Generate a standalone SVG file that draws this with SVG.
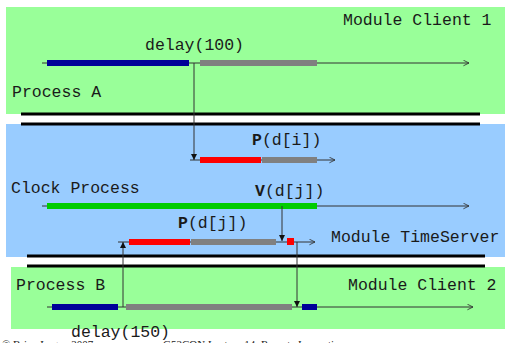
<svg xmlns="http://www.w3.org/2000/svg" width="505" height="343" viewBox="0 0 505 343">
<defs>
<style>
.t{font-family:"Liberation Mono","Courier New",monospace;font-size:16.5px;fill:#1a1a1a}
.b{font-weight:bold}
.ax{stroke:#333;stroke-width:1;fill:none}
.sep{stroke:#000;stroke-width:3}
.bar{stroke-width:6;fill:none}
.ft{font-family:"Liberation Serif","Times New Roman",serif;font-size:11px;fill:#222}
</style>
<marker id="open" viewBox="0 0 10 10" refX="9" refY="5" markerWidth="7" markerHeight="7" orient="auto" markerUnits="userSpaceOnUse">
<path d="M1,1 L9,5 L1,9" fill="none" stroke="#333" stroke-width="1.2"/>
</marker>
<marker id="fill" viewBox="0 0 10 10" refX="10" refY="5" markerWidth="6" markerHeight="6" orient="auto" markerUnits="userSpaceOnUse">
<path d="M0,0 L10,5 L0,10 Z" fill="#111"/>
</marker>
</defs>
<rect width="505" height="343" fill="#fff"/>

<g id="client1">
<rect x="6" y="7" width="499" height="107" fill="#99FF99"/>
<text class="t" x="343" y="25">Module Client 1</text>
<text class="t" x="145" y="50">delay(100)</text>
<text class="t" x="12" y="97">Process A</text>
<line class="ax" x1="42" y1="63" x2="469" y2="63" marker-end="url(#open)"/>
<line class="bar" x1="47" y1="63" x2="189" y2="63" stroke="#000099"/>
<line class="bar" x1="200" y1="63" x2="317" y2="63" stroke="#808080"/>
</g>

<g id="timeserver">
<rect x="6" y="124" width="499" height="133" fill="#99CCFF"/>
<text class="t" x="252" y="145"><tspan class="b">P</tspan>(d[i])</text>
<line class="ax" x1="190" y1="160" x2="335" y2="160" marker-end="url(#open)"/>
<line class="bar" x1="200" y1="160" x2="261" y2="160" stroke="#FF0000"/>
<line class="bar" x1="262" y1="160" x2="317" y2="160" stroke="#808080"/>
<text class="t" x="11" y="193">Clock Process</text>
<text class="t" x="255" y="196"><tspan class="b">V</tspan>(d[j])</text>
<line class="ax" x1="42" y1="206" x2="469" y2="206" marker-end="url(#open)"/>
<line class="bar" x1="47" y1="206" x2="317" y2="206" stroke="#00CC00"/>
<text class="t" x="178" y="228"><tspan class="b">P</tspan>(d[j])</text>
<line class="ax" x1="118" y1="242" x2="315" y2="242" marker-end="url(#open)"/>
<line class="bar" x1="129" y1="242" x2="190" y2="242" stroke="#FF0000"/>
<line class="bar" x1="191" y1="242" x2="276" y2="242" stroke="#808080"/>
<rect x="287" y="238" width="7" height="7" fill="#FF0000"/>
<text class="t" x="331" y="242">Module TimeServer</text>
</g>

<g id="client2">
<rect x="11" y="267" width="494" height="62" fill="#99FF99"/>
<text class="t" x="16" y="290">Process B</text>
<text class="t" x="348" y="290">Module Client 2</text>
<line class="ax" x1="47" y1="307" x2="473" y2="307" marker-end="url(#open)"/>
<line class="bar" x1="52" y1="307" x2="118" y2="307" stroke="#000099"/>
<line class="bar" x1="126" y1="307" x2="292" y2="307" stroke="#808080"/>
<line class="bar" x1="302" y1="307" x2="317" y2="307" stroke="#000099"/>
<text class="t" x="71" y="337">delay(150)</text>
</g>

<g id="separators">
<line class="sep" x1="21" y1="114" x2="480" y2="114"/>
<line class="sep" x1="21" y1="124" x2="480" y2="124"/>
<line class="sep" x1="27" y1="256" x2="485" y2="256"/>
<line class="sep" x1="27" y1="266" x2="485" y2="266"/>
</g>

<g id="connectors">
<line class="ax" x1="194" y1="63" x2="194" y2="160" marker-end="url(#fill)"/>
<line class="ax" x1="282" y1="206" x2="282" y2="241" marker-end="url(#fill)"/>
<line class="ax" x1="123" y1="307" x2="123" y2="242" marker-end="url(#fill)"/>
<line class="ax" x1="297" y1="242" x2="297" y2="307" marker-end="url(#fill)"/>
</g>

<g id="footer">
<text class="ft" x="2" y="348">© Brian Logan 2007</text>
<text class="ft" x="163" y="348">G52CON Lecture 14: Remote Invocation</text>
</g>
</svg>
